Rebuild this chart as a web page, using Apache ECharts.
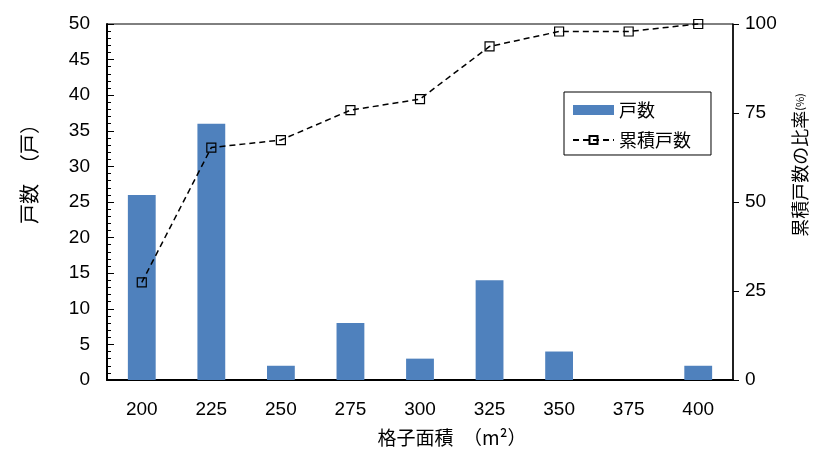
<!DOCTYPE html>
<html>
<head>
<meta charset="utf-8">
<script src="https://cdn.jsdelivr.net/npm/echarts@6/dist/echarts.min.js"></script>
<style>
html,body{margin:0;padding:0;background:#fff;}
#chart{width:817px;height:452px;}
</style>
</head>
<body>
<div id="chart"></div>
<script>
const categories = ['200', '225', '250', '275', '300', '325', '350', '375', '400'];
const households = [26, 36, 2, 8, 3, 14, 4, 0, 2];
const cumulativeShare = [27.4, 65.3, 67.4, 75.8, 78.9, 93.7, 97.9, 97.9, 100];
const leftTicks = [0, 50, 5];
const rightTicks = [0, 100, 25];

const numFont = '"Liberation Sans", Arial, sans-serif';
const cjkFont = '"Noto Sans CJK JP", "Liberation Sans", sans-serif';

const chart = echarts.init(document.getElementById('chart'), null, {renderer: 'canvas'});
chart.setOption({
  animation: false,
  backgroundColor: '#fff',
  grid: {left: 107, right: 81, top: 24, bottom: 72, show: true, borderColor: '#000', borderWidth: 1, containLabel: false},
  legend: {
    left: 564, top: 92, orient: 'vertical',
    itemWidth: 41, itemHeight: 10, itemGap: 12,
    padding: [9, 20, 6, 8],
    borderColor: '#000', borderWidth: 1, backgroundColor: '#fff',
    textStyle: {fontFamily: cjkFont, fontSize: 18, color: '#000'},
    data: [{name: '戸数', icon: 'rect'}, {name: '累積戸数'}]
  },
  xAxis: {
    type: 'category', data: categories,
    axisLine: {lineStyle: {color: '#000', width: 2}},
    axisTick: {inside: true, length: 5, lineStyle: {color: '#000'}},
    axisLabel: {color: '#000', fontFamily: numFont, fontSize: 19, margin: 20},
    name: '格子面積　（m²）', nameLocation: 'middle', nameGap: 48,
    nameTextStyle: {fontFamily: cjkFont, fontSize: 19, color: '#000', padding: [0, 0, 0, 64]}
  },
  yAxis: [{
    type: 'value', min: leftTicks[0], max: leftTicks[1], interval: leftTicks[2],
    axisLine: {show: true, lineStyle: {color: '#000', width: 2}},
    axisTick: {show: true, inside: true, length: 7, lineStyle: {color: '#000'}},
    minorTick: {show: true, splitNumber: 5, length: 4, lineStyle: {color: '#000'}},
    splitLine: {show: false},
    axisLabel: {color: '#000', fontFamily: numFont, fontSize: 19, margin: 17},
    name: '戸数　（戸）', nameLocation: 'middle', nameGap: 68, nameRotate: 90,
    nameTextStyle: {fontFamily: cjkFont, fontSize: 20, color: '#000', padding: [0, 0, 0, 66]}
  }, {
    type: 'value', min: rightTicks[0], max: rightTicks[1], interval: rightTicks[2],
    position: 'right',
    axisLine: {show: true, lineStyle: {color: '#000', width: 1.5}},
    axisTick: {show: true, inside: false, length: 6, lineStyle: {color: '#000'}},
    splitLine: {show: false},
    axisLabel: {color: '#000', fontFamily: numFont, fontSize: 19, margin: 12},
    name: '累積戸数の比率{s|(%)}', nameLocation: 'middle', nameGap: 58, nameRotate: 90,
    nameTextStyle: {fontFamily: cjkFont, fontSize: 18, color: '#000', padding: [0, 0, 0, 74],
      rich: {s: {fontFamily: cjkFont, fontSize: 11, color: '#000'}}}
  }],
  series: [{
    name: '戸数', type: 'bar', data: households, barWidth: '40%',
    itemStyle: {color: '#4F81BD'}
  }, {
    name: '累積戸数', type: 'line', yAxisIndex: 1, data: cumulativeShare,
    symbol: 'rect', symbolSize: 9,
    itemStyle: {color: 'rgba(255,255,255,0)', borderColor: '#000', borderWidth: 1.2},
    lineStyle: {color: '#000', width: 1.5, type: [6, 4]},
    clip: false
  }]
});
</script>
</body>
</html>
